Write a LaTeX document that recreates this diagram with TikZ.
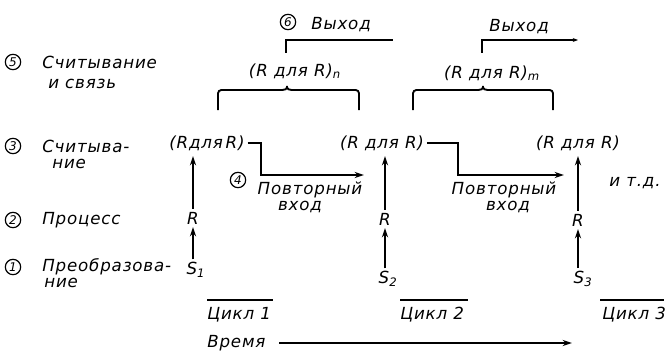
\documentclass[tikz,border=0pt]{standalone}
\usepackage{fontspec}
\setmainfont{DejaVu Sans}
\newfontfamily\lab[LetterSpace=5,ItalicFont={DejaVu Sans Oblique}]{DejaVu Sans}
\usetikzlibrary{arrows.meta}
\tikzset{
  lbl/.style={font=\fontsize{12.5}{13}\selectfont\lab\itshape, inner sep=0pt},
  num/.style={circle, draw, line width=0.9pt, inner sep=0pt, minimum size=11.5pt,
              font=\fontsize{9}{9}\selectfont\lab\itshape},
  conn/.style={line width=1.4pt},
  arr/.style={line width=1.4pt, -{Stealth[length=7pt,width=4.5pt]}},
  brace/.style={line width=1.4pt, rounded corners=2.5pt},
}
\begin{document}
\begin{tikzpicture}[x=0.75pt,y=-0.75pt]
\useasboundingbox (0,0) rectangle (667,353);
% left labels
\node[num] (n5) at (13,62) {5};
\node[lbl,anchor=west] (l5a) at (42,62) {Считывание};
\node[lbl,anchor=west] (l5b) at (48,84) {и связь};
\node[num] (n3) at (13,146) {3};
\node[lbl,anchor=west] (l3a) at (42,146) {Считыва-};
\node[lbl,anchor=west] (l3b) at (52,164) {ние};
\node[num] (n2) at (13,220) {2};
\node[lbl,anchor=west] (l2) at (42,220) {Процесс};
\node[num] (n1) at (13,267) {1};
\node[lbl,anchor=west] (l1a) at (42,267) {Преобразова-};
\node[lbl,anchor=west] (l1b) at (44,283) {ние};
% columns
\node[lbl] (rr1) at (207,143) {(Rдля\,R)};
\node[lbl] (r1) at (193,218) {R};
\node[lbl] (s1) at (196,270) {S\textsubscript{1}};
\node[lbl] (rr2) at (382,143) {(R для R)};
\node[lbl] (r2) at (385,219) {R};
\node[lbl] (s2) at (388,279) {S\textsubscript{2}};
\node[lbl] (rr3) at (578,143) {(R для R)};
\node[lbl] (r3) at (578,220) {R};
\node[lbl] (s3) at (583,279) {S\textsubscript{3}};
\node[lbl] (etc) at (635,183) {и т.д.};
% vertical arrows
\draw[arr] ([yshift=2pt]s1.north -| r1) -- ([yshift=-2pt]r1.south);
\draw[arr] ([yshift=2pt]r1.north) -- (r1.north |- 0,156);
\draw[arr] ([yshift=2pt]s2.north -| r2) -- ([yshift=-2pt]r2.south);
\draw[arr] ([yshift=2pt]r2.north) -- (r2.north |- 0,156);
\draw[arr] ([yshift=2pt]s3.north -| r3) -- ([yshift=-2pt]r3.south);
\draw[arr] ([yshift=2pt]r3.north) -- (r3.north |- 0,156);
% re-entry
\coordinate (e1) at (364,175);
\coordinate (e2) at (564,175);
\draw[arr] ([xshift=2pt]rr1.east) -- (261,143) |- (e1);
\draw[arr] ([xshift=2pt]rr2.east) -- (458,143) |- (e2);
\node[num] (n4) at (238,180) {4};
\node[lbl] (p1a) at (310,190) {Повторный};
\node[lbl] (p1b) at (300,207) {вход};
\node[lbl] (p2a) at (504,190) {Повторный};
\node[lbl] (p2b) at (508,207) {вход};
% braces
\draw[brace] (218,110) |- (279,90) .. controls (285,90) and (287,89) .. (287,84)
  .. controls (287,89) and (289,90) .. (295,90) -| (359,110);
\draw[brace] (413,110) |- (475,90) .. controls (481,90) and (483,89) .. (483,84)
  .. controls (483,89) and (485,90) .. (491,90) -| (553,110);
\node[lbl] (bn) at (295,71) {(R для R)\textsubscript{n}};
\node[lbl] (bm) at (492,73) {(R для R)\textsubscript{m}};
% outputs
\node[num] (n6) at (288,22) {6};
\node[lbl,anchor=west] (o1) at (311,25) {Выход};
\node[lbl,anchor=west] (o2) at (489,27) {Выход};
\coordinate (q1) at (393,40);
\coordinate (q2) at (578,40);
\draw[conn] (286,53) |- (q1);
\draw[arr,-{Stealth[length=4pt,width=3pt]}] (482,53) |- (q2);
% cycles
\node[lbl,anchor=west] (c1) at (207,315) {Цикл 1};
\node[lbl,anchor=west] (c2) at (400,315) {Цикл 2};
\node[lbl,anchor=west] (c3) at (602,315) {Цикл 3};
\draw[conn] (207,300) -- (273,300);
\draw[conn] (400,300) -- (468,300);
\draw[conn] (600,300) -- (664,300);
% time
\node[lbl,anchor=west] (t) at (207,343) {Время};
\coordinate (te) at (572,343);
\draw[arr] ([xshift=10pt]t.east) -- (te);
\end{tikzpicture}
\end{document}
